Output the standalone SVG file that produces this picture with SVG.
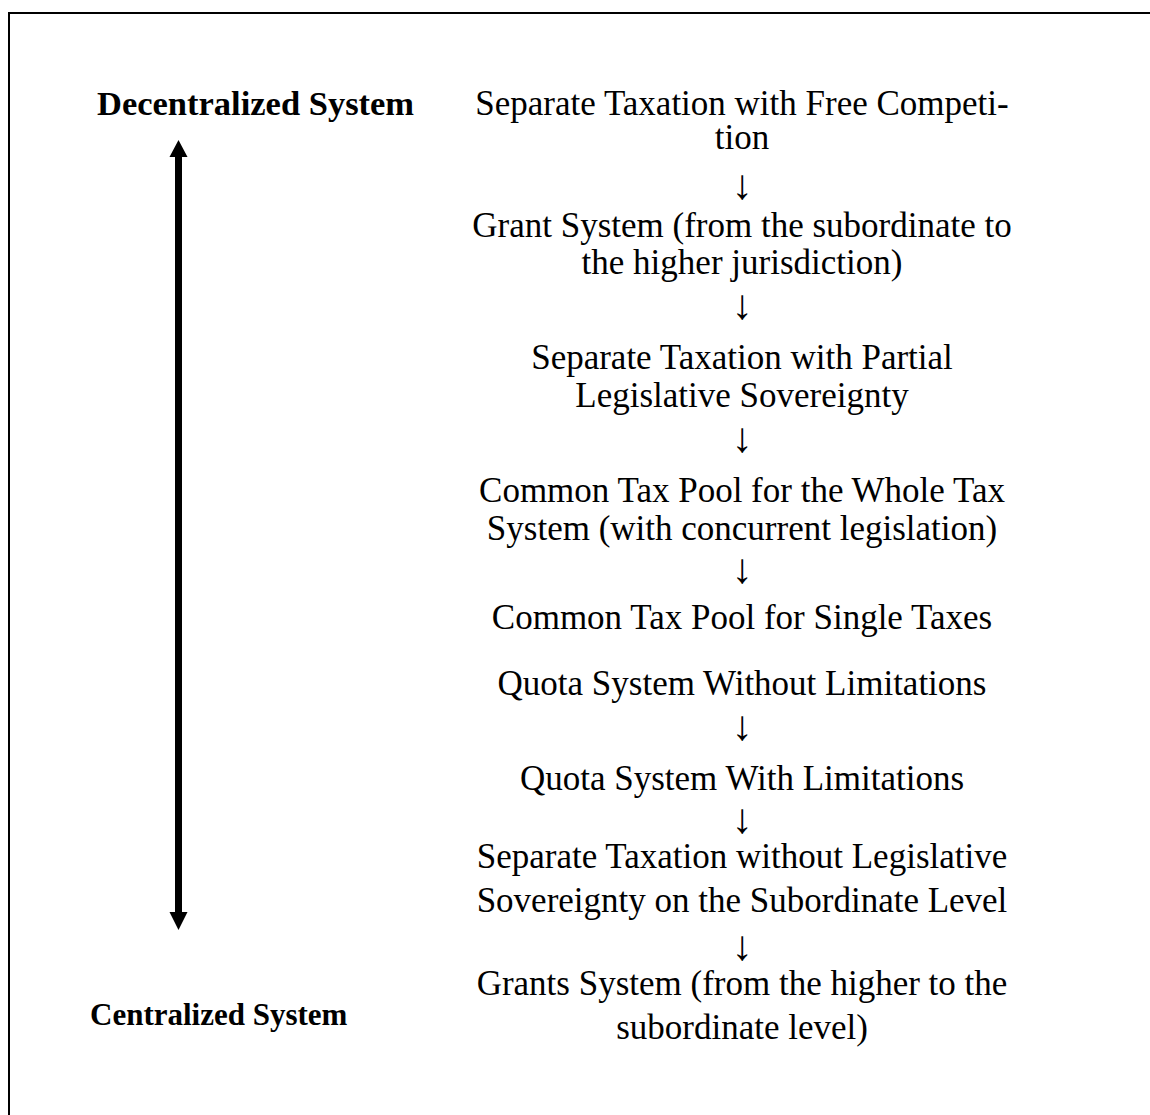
<svg xmlns="http://www.w3.org/2000/svg" width="1150" height="1115" viewBox="0 0 1150 1115">
<style>
.t{font-family:"Liberation Serif","Times New Roman",serif;font-size:35px;fill:#000;text-anchor:middle}
.a{font-family:"Liberation Serif","Times New Roman",serif;font-size:42px;fill:#000;text-anchor:middle}
.b{font-family:"Liberation Serif","Times New Roman",serif;font-weight:bold;fill:#000}
</style>
<rect width="1150" height="1115" fill="#fff"/>
<path d="M9,1115 V13 H1150" fill="none" stroke="#000" stroke-width="2"/>
<g id="connectors">
<line x1="178.5" y1="155" x2="178.5" y2="914" stroke="#000" stroke-width="7"/>
<polygon points="178.5,140 169.5,157 187.5,157" fill="#000"/>
<polygon points="178.5,930 169.5,912 187.5,912" fill="#000"/>
<text class="a" x="742" y="199">↓</text>
<text class="a" x="742" y="319">↓</text>
<text class="a" x="742" y="452">↓</text>
<text class="a" x="742" y="583">↓</text>
<text class="a" x="742" y="740">↓</text>
<text class="a" x="742" y="833">↓</text>
<text class="a" x="742" y="960">↓</text>
</g>
<g id="label-decentralized"><text class="b" x="97" y="115" font-size="34.5">Decentralized System</text></g>
<g id="label-centralized"><text class="b" x="90" y="1025" font-size="31">Centralized System</text></g>
<g id="n1"><text class="t" x="742" y="115">Separate Taxation with Free Competi-</text><text class="t" x="742" y="149">tion</text></g>
<g id="n2"><text class="t" x="742" y="237">Grant System (from the subordinate to</text><text class="t" x="742" y="274">the higher jurisdiction)</text></g>
<g id="n3"><text class="t" x="742" y="369">Separate Taxation with Partial</text><text class="t" x="742" y="407">Legislative Sovereignty</text></g>
<g id="n4"><text class="t" x="742" y="502">Common Tax Pool for the Whole Tax</text><text class="t" x="742" y="540">System (with concurrent legislation)</text></g>
<g id="n5"><text class="t" x="742" y="629">Common Tax Pool for Single Taxes</text></g>
<g id="n6"><text class="t" x="742" y="695">Quota System Without Limitations</text></g>
<g id="n7"><text class="t" x="742" y="790">Quota System With Limitations</text></g>
<g id="n8"><text class="t" x="742" y="868">Separate Taxation without Legislative</text><text class="t" x="742" y="912">Sovereignty on the Subordinate Level</text></g>
<g id="n9"><text class="t" x="742" y="995">Grants System (from the higher to the</text><text class="t" x="742" y="1039">subordinate level)</text></g>
</svg>
